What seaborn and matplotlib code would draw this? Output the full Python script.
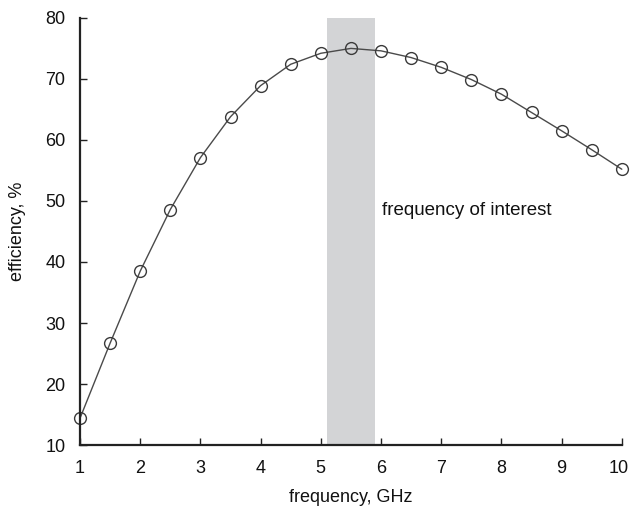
import matplotlib
matplotlib.use('Agg')

import seaborn as sns
import matplotlib.pyplot as plt
import matplotlib.transforms as mtransforms
import pandas as pd

freq_ghz = [1.0, 1.5, 2.0, 2.5, 3.0, 3.5, 4.0, 4.5, 5.0, 5.5,
            6.0, 6.5, 7.0, 7.5, 8.0, 8.5, 9.0, 9.5, 10.0]
efficiency = [14.4, 26.7, 38.5, 48.6, 57.1, 63.8, 68.9, 72.4, 74.2, 75.0,
              74.6, 73.5, 71.9, 69.9, 67.5, 64.5, 61.5, 58.4, 55.2]
band = (5.1, 5.9)
band_label = 'frequency of interest'

if __name__ == "__main__":
    sns.set_style('ticks')
    plt.rcParams['font.family'] = ['Liberation Sans', 'DejaVu Sans']

    df = pd.DataFrame({'freq': freq_ghz, 'eff': efficiency})

    fig = plt.figure(figsize=(6.3, 5.11), dpi=100)
    ax = fig.add_axes([0.127, 0.129, 0.86, 0.836])

    # highlighted band
    ax.axvspan(band[0], band[1], color='#d3d4d6', lw=0, zorder=0)

    sns.lineplot(data=df, x='freq', y='eff', ax=ax,
                 color='#4a4a4a', linewidth=1.0,
                 marker='o', markersize=8.5,
                 markerfacecolor='none', markeredgecolor='#3a3a3a',
                 markeredgewidth=1.0)
    for ln in ax.lines:
        ln.set_clip_on(False)

    ax.text(6.02, 48.5, band_label, fontsize=13.5, va='center', ha='left',
            color='#111111')

    ax.set_xlim(1, 10)
    ax.set_ylim(10, 80)
    ax.set_xticks(range(1, 11))
    ax.set_yticks(range(10, 81, 10))
    ax.tick_params(direction='in', length=5, width=1, labelsize=13,
                   color='#222222', labelcolor='#111111', pad=10.5)
    ax.set_xlabel('frequency, GHz', fontsize=13, va='center', color='#111111')
    ax.set_ylabel('efficiency, %', fontsize=13, va='center', color='#111111')
    ax.xaxis.set_label_coords(0.5, -0.122)
    ax.yaxis.set_label_coords(-0.116, 0.5)

    # nudge the last x tick label so it stays inside the figure
    last = ax.get_xticklabels()[-1]
    last.set_transform(last.get_transform() +
                       mtransforms.ScaledTranslation(-2 / 72, 0, fig.dpi_scale_trans))

    for side in ['left', 'bottom']:
        ax.spines[side].set_linewidth(1.6)
        ax.spines[side].set_color('#222222')
    sns.despine(ax=ax)

    plt.savefig('out.png', dpi=100)
